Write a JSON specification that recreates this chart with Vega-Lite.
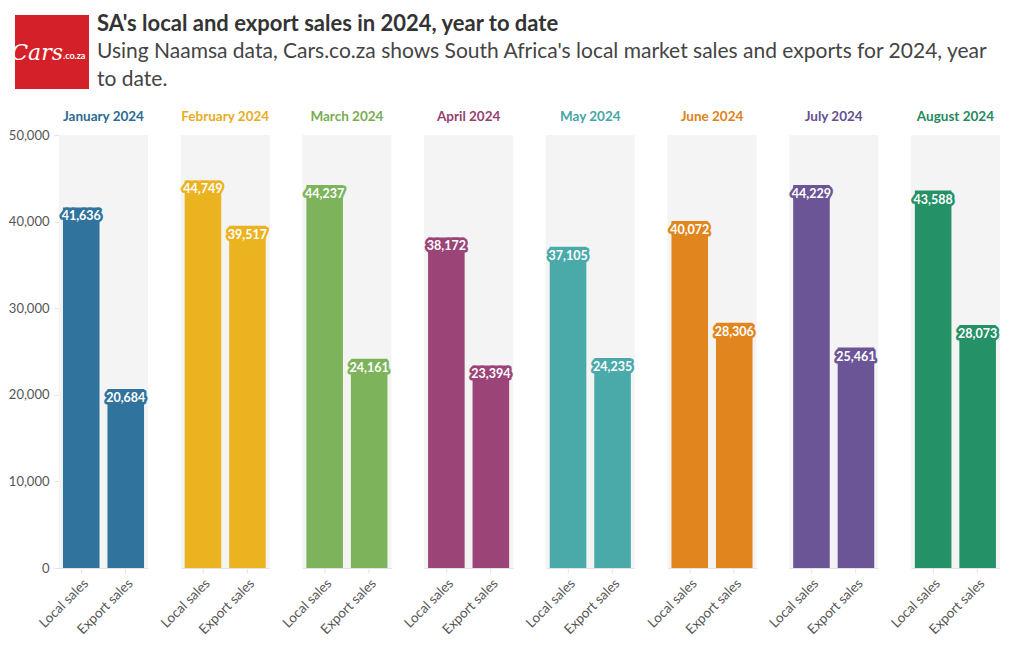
{
  "$schema": "https://vega.github.io/schema/vega-lite/v6.json",
  "background": "white",
  "padding": {"left": 7, "top": 12, "right": 10, "bottom": 5},
  "config": {
    "font": "Lato",
    "view": {"stroke": null},
    "axis": {"labelFont": "Lato", "labelColor": "#555555", "tickColor": "#e4e4e4", "domainColor": "#e4e4e4"}
  },
  "spacing": 18,
  "vconcat": [
    {
      "hconcat": [
        {
          "width": 4,
          "height": 1,
          "data": {"values": []},
          "mark": {"type": "point", "opacity": 0},
          "encoding": {}
        },
        {
          "hconcat": [
            {
              "width": 74,
              "height": 74,
              "view": {"fill": "#d42029", "stroke": null},
              "data": {"values": [{"logo": "Cars", "part": 1}, {"logo": ".co.za", "part": 2}]},
              "layer": [
                {
                  "transform": [{"filter": "datum.part == 1"}],
                  "mark": {"type": "text", "color": "white", "fontStyle": "italic", "fontSize": 22, "align": "right", "dx": 11, "dy": 1, "font": "DejaVu Serif"},
                  "encoding": {"text": {"field": "logo"}}
                },
                {
                  "transform": [{"filter": "datum.part == 2"}],
                  "mark": {"type": "text", "color": "white", "fontSize": 9, "fontWeight": "bold", "align": "left", "dx": 11, "dy": 4},
                  "encoding": {"text": {"field": "logo"}}
                }
              ],
              "encoding": {
                "x": {"datum": "c", "type": "nominal", "axis": null},
                "y": {"datum": "c", "type": "nominal", "axis": null}
              }
            },
            {
              "width": 900,
              "height": 74,
              "data": {
                "values": [
                  {"line": 0, "kind": "title", "text": "SA's local and export sales in 2024, year to date"},
                  {"line": 1, "kind": "subtitle", "text": "Using Naamsa data, Cars.co.za shows South Africa's local market sales and exports for 2024, year"},
                  {"line": 2, "kind": "subtitle", "text": "to date."}
                ]
              },
              "encoding": {
                "x": {"datum": 0, "type": "quantitative", "scale": {"domain": [0, 1]}, "axis": null},
                "y": {"field": "line", "type": "ordinal", "scale": {"type": "point", "padding": 0.3}, "axis": null},
                "text": {"field": "text"}
              },
              "layer": [
                {
                  "transform": [{"filter": "datum.kind == 'title'"}],
                  "mark": {"type": "text", "align": "left", "baseline": "middle", "fontSize": 22, "fontWeight": "bold", "color": "#333333"}
                },
                {
                  "transform": [{"filter": "datum.kind == 'subtitle'"}],
                  "mark": {"type": "text", "align": "left", "baseline": "middle", "fontSize": 21, "color": "#444444"}
                }
              ]
            }
          ],
          "spacing": 8
        }
      ],
      "spacing": 0
    },
    {
      "hconcat": [
        {
          "width": 1,
          "height": 1,
          "data": {"values": []},
          "mark": {"type": "point", "opacity": 0},
          "encoding": {}
        },
        {
          "data": {
            "values": [
              {"month": "January 2024", "type": "Local sales", "value": 41636},
              {"month": "January 2024", "type": "Export sales", "value": 20684},
              {"month": "February 2024", "type": "Local sales", "value": 44749},
              {"month": "February 2024", "type": "Export sales", "value": 39517},
              {"month": "March 2024", "type": "Local sales", "value": 44237},
              {"month": "March 2024", "type": "Export sales", "value": 24161},
              {"month": "April 2024", "type": "Local sales", "value": 38172},
              {"month": "April 2024", "type": "Export sales", "value": 23394},
              {"month": "May 2024", "type": "Local sales", "value": 37105},
              {"month": "May 2024", "type": "Export sales", "value": 24235},
              {"month": "June 2024", "type": "Local sales", "value": 40072},
              {"month": "June 2024", "type": "Export sales", "value": 28306},
              {"month": "July 2024", "type": "Local sales", "value": 44229},
              {"month": "July 2024", "type": "Export sales", "value": 25461},
              {"month": "August 2024", "type": "Local sales", "value": 43588},
              {"month": "August 2024", "type": "Export sales", "value": 28073}
            ]
          },
          "facet": {
            "column": {
              "field": "month",
              "type": "nominal",
              "sort": ["January 2024", "February 2024", "March 2024", "April 2024", "May 2024", "June 2024", "July 2024", "August 2024"],
              "title": null,
              "header": {
                "labelFontWeight": "bold",
                "labelFontSize": 13.5,
                "labelFont": "Lato",
                "labelPadding": 12,
                "labelColor": {"expr": "parent['month']=='January 2024'?'#2b6b95':parent['month']=='February 2024'?'#e9ad1c':parent['month']=='March 2024'?'#76ad52':parent['month']=='April 2024'?'#963f72':parent['month']=='May 2024'?'#44a6a6':parent['month']=='June 2024'?'#de8119':parent['month']=='July 2024'?'#66508f':'#1f8a5e'"}
              }
            }
          },
          "spacing": 32.7,
          "spec": {
            "width": 89,
            "height": 433,
            "view": {"fill": "#f4f4f4", "stroke": null},
            "encoding": {
              "x": {
                "field": "type",
                "type": "nominal",
                "sort": ["Local sales", "Export sales"],
                "scale": {"paddingInner": 0.178, "paddingOuter": 0.089},
                "axis": {"title": null, "labelAngle": -45, "labelFontSize": 13.5, "tickSize": 5, "labelPadding": 3}
              },
              "y": {
                "field": "value",
                "type": "quantitative",
                "scale": {"domain": [0, 50000]},
                "axis": {"title": null, "tickCount": 5, "grid": false, "domain": false, "labelFontSize": 13, "tickSize": 5, "labelPadding": 5, "format": ",d"}
              }
            },
            "layer": [
              {
                "mark": {"type": "bar"},
                "encoding": {
                  "color": {
                    "field": "month",
                    "type": "nominal",
                    "scale": {
                      "domain": ["January 2024", "February 2024", "March 2024", "April 2024", "May 2024", "June 2024", "July 2024", "August 2024"],
                      "range": ["#30739c", "#ecb321", "#7db45b", "#9b4478", "#4aaaaa", "#e1861e", "#6c5596", "#259166"]
                    },
                    "legend": null
                  }
                }
              },
              {
                "mark": {"type": "text", "dy": 9, "baseline": "middle", "fontWeight": "bold", "fontSize": 12.5, "strokeWidth": 5, "strokeJoin": "round"},
                "encoding": {
                  "text": {"field": "value", "type": "quantitative", "format": ","},
                  "color": {"field": "month", "type": "nominal", "legend": null},
                  "stroke": {
                    "field": "month",
                    "type": "nominal",
                    "scale": {
                      "domain": ["January 2024", "February 2024", "March 2024", "April 2024", "May 2024", "June 2024", "July 2024", "August 2024"],
                      "range": ["#30739c", "#ecb321", "#7db45b", "#9b4478", "#4aaaaa", "#e1861e", "#6c5596", "#259166"]
                    },
                    "legend": null
                  }
                }
              },
              {
                "mark": {"type": "text", "dy": 9, "baseline": "middle", "fontWeight": "bold", "fontSize": 12.5, "color": "white"},
                "encoding": {
                  "text": {"field": "value", "type": "quantitative", "format": ","}
                }
              }
            ]
          }
        }
      ],
      "spacing": 0
    }
  ]
}
